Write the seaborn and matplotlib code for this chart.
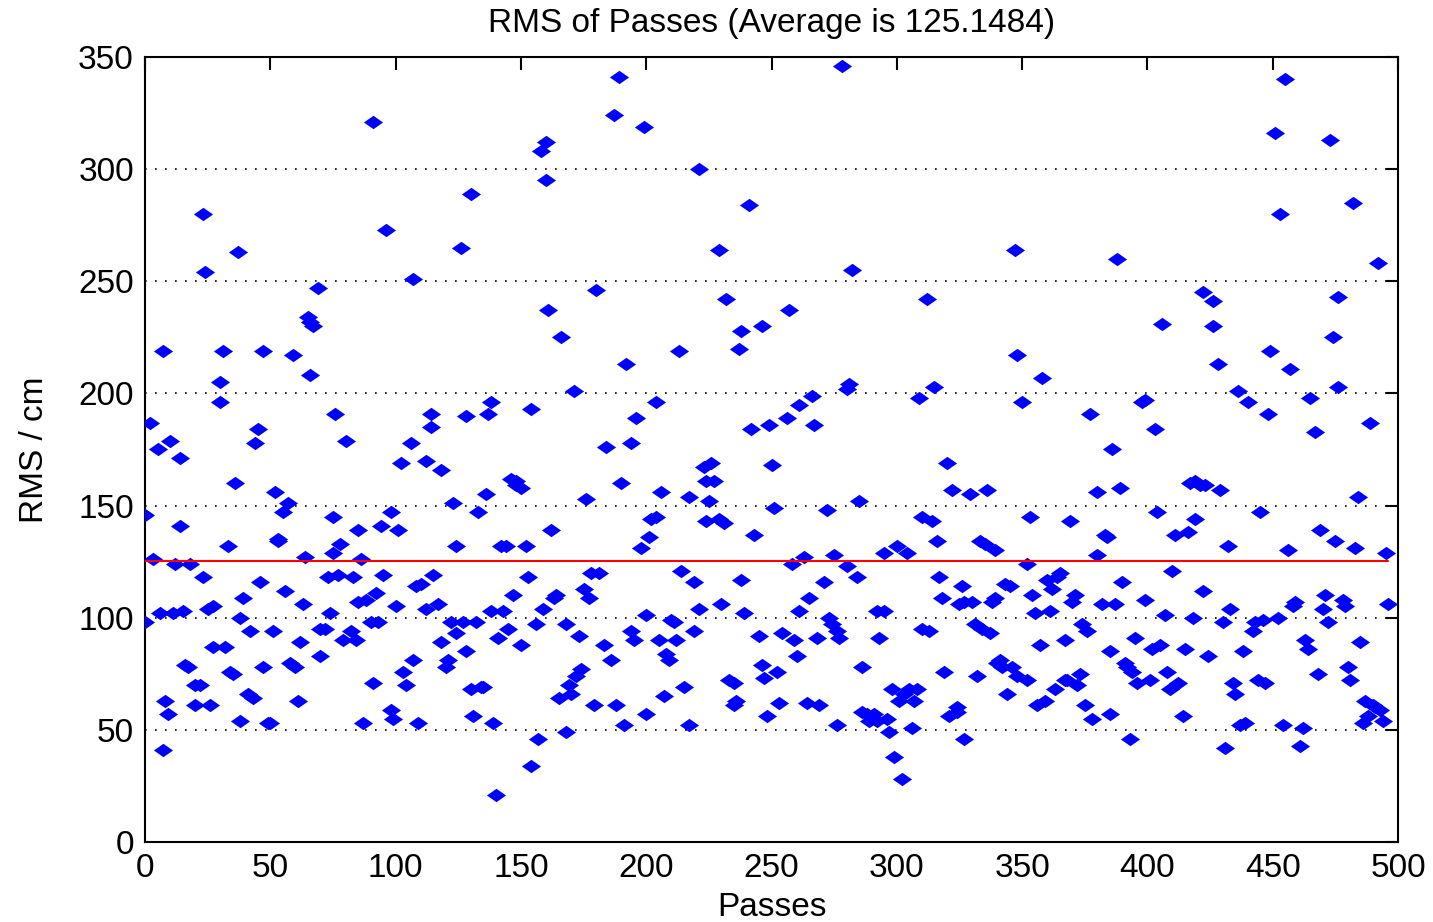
import numpy as np
import pandas as pd
import matplotlib
matplotlib.use("Agg")
import matplotlib.pyplot as plt
import seaborn as sns

# values, one entry per marker
passes = [0, 0, 2, 3, 5, 6, 7, 7, 8, 9, 10, 11, 12, 14, 14, 15, 16, 17, 18, 20, 20, 22, 23, 23, 24, 25, 26, 27, 27, 30,
          30, 31, 32, 33, 34, 35, 36, 37, 38, 38, 39, 41, 42, 43, 44, 45, 46, 47, 47, 49,
          50, 51, 52, 53, 53, 55, 56, 57, 58, 59, 60, 61, 62, 63, 64, 65, 66, 66, 67, 69, 70, 70, 72, 73, 74, 75, 75,
          76, 77, 78, 79, 80, 82, 83, 84, 85, 85, 86, 87, 88, 90, 91, 91, 92, 93, 94, 95, 96, 98, 98, 99, 100, 101,
          102, 103, 104, 106, 107, 107, 108, 109, 110, 112, 112, 114, 114, 115, 117, 118, 118, 120, 121, 122, 123, 124,
          124, 126, 127, 128, 128, 130, 130, 131, 132, 133, 134, 135, 136, 137, 138, 138, 139, 140, 141, 142, 143, 144,
          145, 146, 147, 148, 148, 150,
          150, 152, 153, 154, 154, 156, 157, 158, 159, 160, 160, 161, 162, 163, 164, 165, 166, 168, 168, 169, 170, 171,
          172, 173, 174, 175, 176, 177, 178, 179, 180, 181, 183, 184, 186, 187, 188, 189, 190, 191, 192, 194, 194, 195,
          196, 198, 199, 200,
          200, 201, 202, 204, 204, 205, 206, 207, 208, 209, 210, 211, 212, 213, 214, 215, 217, 217, 219, 219, 221, 221,
          223, 224, 224, 225, 226, 227, 229, 229, 230, 231, 232, 233, 235, 235, 236, 237, 238, 238, 239, 241, 242, 243,
          245, 246, 246, 247, 248, 249,
          250, 251, 252, 253, 254, 256, 257, 258, 259, 260, 261, 261, 263, 264, 265, 266, 267, 268, 269, 271, 272, 273,
          274, 275, 276, 276, 277, 278, 280, 280, 281, 282, 284, 285, 286, 286, 288, 289, 291, 292, 292, 293, 295, 295,
          296, 297, 298, 299, 300,
          301, 302, 303, 304, 305, 306, 307, 308, 309, 310, 310, 312, 313, 314, 315, 316, 317, 318, 319, 320, 321, 322,
          324, 324, 325, 326, 327, 327, 329, 330, 331, 332, 333, 334, 335, 336, 337, 338, 339, 339, 340, 341, 342, 343,
          344, 345, 346, 347, 348, 348,
          350, 352, 352, 353, 354, 355, 356, 357, 358, 359, 360, 361, 362, 363, 364, 365, 367, 367, 368, 369, 370, 371,
          372, 373, 374, 375, 376, 377, 378, 380, 380, 382, 383, 384, 385, 385, 386, 387, 388, 389, 390, 391, 392, 393,
          394, 395, 396, 398, 399, 399,
          401, 402, 403, 404, 405, 406, 407, 408, 409, 410, 411, 412, 414, 415, 416, 417, 418, 419, 419, 421, 422, 422,
          423, 424, 426, 426, 428, 429, 430, 431, 432, 433, 434, 435, 436, 437, 438, 439, 440, 442, 443, 444, 445, 446,
          447, 448, 449,
          451, 452, 453, 454, 455, 456, 457, 458, 459, 461, 462, 463, 464, 465, 467, 468, 469, 470, 471, 472, 473, 474,
          475, 476, 476, 478, 479, 480, 481, 482, 483, 484, 485, 486, 487, 488, 489, 490, 491, 492, 493, 494, 495, 496]

rms = [146, 98, 187, 126, 175, 102, 219, 41, 63, 57, 179, 102, 124, 141, 171, 103, 79, 78, 124, 70, 61, 70, 280, 118,
       254, 104, 61, 105, 87, 205, 196, 219, 87, 132, 76, 75, 160, 263, 54, 100, 109, 66, 94, 64, 178, 184, 116, 219,
       78, 53,
       53, 94, 156, 134, 135, 147, 112, 151, 80, 217, 78, 63, 89, 106, 127, 234, 208, 232, 230, 247, 95, 83, 95, 118,
       102, 129, 145, 191, 119, 133, 90, 179, 94, 118, 90, 107, 139, 126, 53, 108, 98, 71, 321, 111, 98, 141, 119, 273,
       147, 59, 55, 105, 139,
       169, 76, 70, 178, 251, 81, 114, 53, 115, 104, 170, 185, 191, 119, 106, 166, 89, 78, 81, 98, 151, 93, 132, 265,
       98, 190, 85, 289, 68, 56, 98, 147, 69, 69, 155, 191, 196, 103, 53, 21, 91, 132, 103, 132, 95, 162, 110, 159,
       161, 158,
       88, 132, 118, 193, 34, 97, 46, 308, 104, 312, 295, 237, 139, 109, 110, 64, 225, 97, 49, 70, 66, 201, 74, 92,
       77, 113, 153, 109, 120, 61, 246, 120, 88, 176, 81, 324, 61, 341, 160, 52, 213, 94, 178, 90, 189, 131, 319, 57,
       101, 136, 144, 196, 145, 90, 156, 65, 84, 81, 99, 98, 90, 219, 121, 69, 52, 154, 116, 94, 104, 300, 167, 143,
       161, 152, 169, 161, 144, 264, 106, 142, 242, 72, 61, 71, 63, 220, 228, 117, 102, 284, 184, 137, 92, 230, 79,
       73, 56, 186,
       168, 149, 76, 62, 93, 189, 237, 124, 90, 83, 195, 103, 127, 62, 109, 199, 186, 91, 61, 116, 148, 100, 97, 128,
       52, 94, 91, 346, 123, 202, 204, 255, 118, 152, 78, 58, 57, 54, 57, 54, 103, 91, 103, 129, 55, 49, 68, 38, 132,
       63, 28, 66, 129, 68, 51, 63, 68, 198, 95, 145, 242, 94, 143, 203, 134, 118, 109, 76, 169, 56, 157, 58, 60, 106,
       114, 46, 107, 155, 107, 97, 74, 134, 95, 133, 157, 93, 107, 109, 130, 80, 81, 78, 115, 66, 114, 78, 264, 74,
       217,
       196, 72, 124, 145, 110, 102, 61, 88, 207, 63, 117, 103, 113, 68, 118, 120, 90, 72, 72, 143, 107, 110, 70, 75,
       97, 61, 94, 191, 55, 156, 128, 106, 137, 136, 57, 85, 175, 106, 260, 158, 116, 80, 78, 46, 76, 91, 71, 196,
       108, 197,
       72, 86, 184, 147, 88, 231, 101, 76, 68, 121, 137, 71, 56, 86, 138, 160, 100, 161, 144, 159, 112, 245, 159, 83,
       230, 241, 213, 157, 98, 42, 132, 104, 71, 66, 201, 52, 85, 53, 196, 94, 98, 72, 147, 99, 71, 191, 219,
       316, 100, 280, 52, 340, 130, 211, 105, 107, 43, 51, 90, 86, 198, 183, 75, 139, 104, 110, 98, 313, 225, 134, 243,
       203, 108, 105, 78, 72, 285, 131, 154, 89, 53, 63, 56, 187, 61, 60, 258, 59, 54, 129, 106]

average = 125.1484

df = pd.DataFrame({"Passes": passes, "RMS": rms})

sns.set_style("white")
plt.rcParams["font.family"] = ["Liberation Sans", "DejaVu Sans"]
plt.rcParams["text.color"] = "black"
plt.rcParams["axes.labelcolor"] = "black"
plt.rcParams["xtick.color"] = "black"
plt.rcParams["ytick.color"] = "black"

fig = plt.figure(figsize=(14.33, 9.22), dpi=100)
ax = fig.add_axes([0.1012, 0.0868, 0.8744, 0.8514])

diamond = [(-1, 0), (0, 0.7), (1, 0), (0, -0.7), (-1, 0)]
sns.scatterplot(data=df, x="Passes", y="RMS", marker=diamond, s=190,
                color="#0000ff", edgecolor="#0000ff", linewidth=0, ax=ax, zorder=3)

sns.lineplot(x=[0, max(passes)], y=[average, average], color="red", linewidth=1.5, ax=ax, zorder=4)

ax.set_xlim(0, 500)
ax.set_ylim(0, 350)
ax.set_xticks(np.arange(0, 501, 50))
ax.set_yticks(np.arange(0, 351, 50))
for y in range(50, 350, 50):
    ax.axhline(y, color="black", linestyle=(0, (1, 5)), linewidth=1.2, zorder=1)

ax.tick_params(direction="in", length=9, width=1.5, top=True, right=True,
               labelsize=24, pad=8)
for s in ax.spines.values():
    s.set_visible(True)
    s.set_linewidth(1.5)
    s.set_color("black")

ax.set_title("RMS of Passes (Average is 125.1484)", fontsize=24, pad=18)
ax.set_xlabel("Passes", fontsize=24, labelpad=6)
ax.set_ylabel("RMS / cm", fontsize=24, labelpad=20)

fig.savefig("out.png", dpi=100)
